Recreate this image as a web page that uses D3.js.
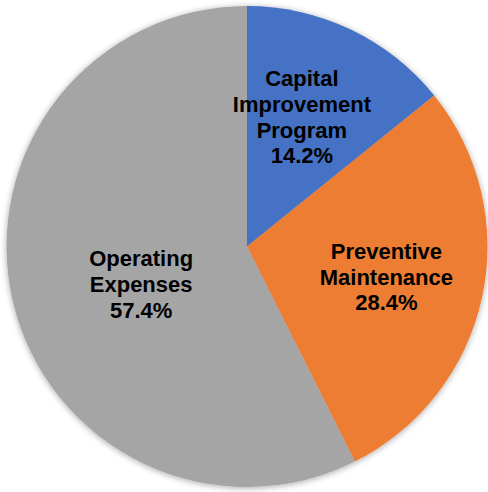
<!DOCTYPE html>
<html>
<head>
<meta charset="utf-8">
<script src="https://cdn.jsdelivr.net/npm/d3@7"></script>
<style>
  html, body { margin: 0; padding: 0; background: #fff; }
  svg { display: block; }
  text { font-family: "Liberation Sans", Arial, sans-serif; font-weight: bold; }
</style>
</head>
<body>
<svg id="chart" width="488" height="492"></svg>
<script>
// Budget share by program
const categories = [["Capital", "Improvement", "Program"], ["Preventive", "Maintenance"], ["Operating", "Expenses"]];
const shares = [14.2, 28.4, 57.4];
const sliceColors = ["#4472C4", "#ED7D31", "#A5A5A5"];

// label placement: distance from centre as a fraction of radius, and a small angular nudge (degrees)
const labelRadius = [0.585, 0.593, 0.467];
const labelNudge = [-2.6, 0, -6.2];

const width = 488, height = 492;
const cx = 247, cy = 246.5, R = 240.5;
const fontSize = 22, lineH = 25.7;

const svg = d3.select("#chart");

const defs = svg.append("defs");
const f = defs.append("filter").attr("id", "shadow")
  .attr("x", "-10%").attr("y", "-10%").attr("width", "120%").attr("height", "120%");
f.append("feDropShadow").attr("dx", 0).attr("dy", 1).attr("stdDeviation", 3)
  .attr("flood-color", "#000").attr("flood-opacity", 0.35);

const g = svg.append("g").attr("transform", `translate(${cx},${cy})`);

const pie = d3.pie().sort(null).value(d => d);
const arcs = pie(shares);
const arc = d3.arc().innerRadius(0).outerRadius(R);

const slices = g.append("g").attr("filter", "url(#shadow)");
slices.selectAll("path")
  .data(arcs)
  .join("path")
  .attr("d", arc)
  .attr("fill", (d, i) => sliceColors[i]);

const labels = g.selectAll("text.lbl")
  .data(arcs)
  .join("text")
  .attr("class", "lbl")
  .attr("text-anchor", "middle")
  .attr("font-size", fontSize)
  .attr("fill", "#000")
  .each(function (d, i) {
    const a = (d.startAngle + d.endAngle) / 2 + labelNudge[i] * Math.PI / 180;
    const r = labelRadius[i] * R;
    const x = r * Math.sin(a), y = -r * Math.cos(a);
    const lines = categories[i].concat([d3.format(".1f")(shares[i]) + "%"]);
    const n = lines.length;
    const firstBase = y + 0.716 * fontSize / 2 - (n - 1) * lineH / 2;
    const t = d3.select(this);
    lines.forEach((s, k) => {
      t.append("tspan").attr("x", x).attr("y", firstBase + k * lineH).text(s);
    });
  });
</script>
</body>
</html>
